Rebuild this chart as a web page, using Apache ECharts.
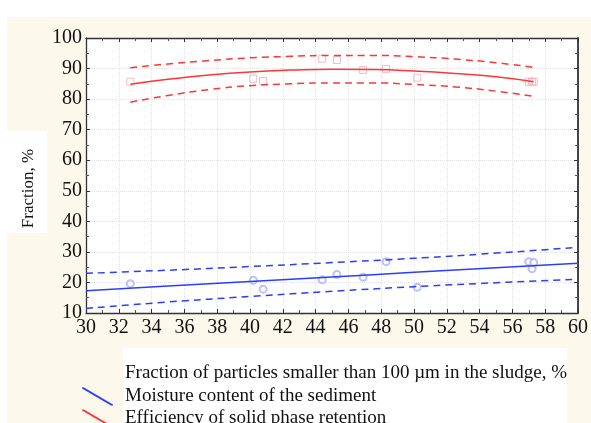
<!DOCTYPE html>
<html>
<head>
<meta charset="utf-8">
<script src="https://cdn.jsdelivr.net/npm/echarts@6/dist/echarts.min.js"></script>
<style>
  html, body { margin: 0; padding: 0; background: #fff; }
  #main { width: 591px; height: 423px; }
</style>
</head>
<body>
<div id="main"></div>
<script>
// sample points (x = fraction of particles < 100 um)
var sampleX = [32.7, 40.2, 40.8, 44.4, 45.3, 46.9, 48.3, 50.2, 57.0, 57.2, 57.3];
var moisture = [19.6, 20.7, 17.8, 20.9, 22.6, 21.7, 26.8, 18.4, 26.8, 24.5, 26.5];
var efficiency = [85.7, 86.7, 85.9, 93.2, 92.8, 89.5, 89.9, 87.0, 85.7, 85.7, 85.7];

// linear fit of moisture + confidence band
var blueX = [30, 35, 40, 45, 50, 55, 60];
var blueFit = [17.3, 18.8, 20.3, 21.8, 23.3, 24.8, 26.3];
var blueUpper = [23.0, 24.0, 25.2, 26.5, 27.9, 29.6, 31.5];
var blueLower = [11.5, 13.6, 15.4, 17.1, 18.6, 19.9, 21.0];

// quadratic fit of efficiency + confidence band
var redX = [32.7, 35, 37.5, 40, 42.5, 45, 47.5, 50, 52.5, 55, 57.3];
var redFit = [84.9, 86.5, 87.9, 88.9, 89.5, 89.8, 89.7, 89.2, 88.4, 87.3, 85.7];
var redUpper = [90.3, 91.5, 92.6, 93.5, 94.0, 94.3, 94.3, 93.9, 93.1, 91.9, 90.4];
var redLower = [79.0, 81.2, 83.1, 84.4, 85.0, 85.3, 85.3, 84.8, 84.0, 82.6, 80.9];

var xTitle = 'Fraction of particles smaller than 100 \u00b5m in the sludge, %';
var yTitle = 'Fraction, %';
var blueName = 'Moisture content of the sediment';
var redName = 'Efficiency of solid phase retention';

function pairs(xs, ys) {
    var out = [];
    for (var i = 0; i < xs.length; i++) {
        out.push([xs[i], ys[i]]);
    }
    return out;
}

var serif = 'Liberation Serif';
var BLUE = '#2b3dff';
var RED = '#ff3535';

var myChart = echarts.init(document.getElementById('main'));

var xBase = {
    type: 'value', min: 30, max: 60, interval: 2,
    axisLine: { show: true, lineStyle: { color: '#333', width: 1.3 } },
    axisTick: { show: true, inside: true, length: 4, lineStyle: { color: '#333' } },
    minorTick: { show: true, splitNumber: 2, length: 3, lineStyle: { color: '#555' } },
    splitLine: { show: false }
};
var yBase = {
    type: 'value', min: 10, max: 100, interval: 10,
    axisLine: { show: true, lineStyle: { color: '#333', width: 1.3 } },
    axisTick: { show: true, inside: true, length: 4, lineStyle: { color: '#333' } },
    minorTick: { show: true, splitNumber: 2, length: 3, lineStyle: { color: '#555' } },
    splitLine: { show: false }
};

function legendAt(name, top) {
    return {
        data: [name],
        left: 82, top: top, padding: 0,
        itemWidth: 31, itemHeight: 18,
        icon: 'path://M0,0L2,0L31,17L31,18L29,18L0,1Z',
        textStyle: { fontFamily: serif, fontSize: 19, color: '#111', padding: [0, 0, 0, 7] }
    };
}

option = {
    backgroundColor: '#fdf8ec',
    animation: false,
    grid: {
        left: 86, right: 11, top: 38, bottom: 110,
        show: true, backgroundColor: '#ffffff', borderWidth: 0
    },
    xAxis: [
        Object.assign({}, xBase, {
            position: 'bottom',
            axisLabel: { fontFamily: serif, fontSize: 20, color: '#111', margin: 5 },
            splitLine: { show: true, lineStyle: { color: '#e2e2e2', type: 'dotted' } }
        }),
        Object.assign({}, xBase, { position: 'top', axisLabel: { show: false } })
    ],
    yAxis: [
        Object.assign({}, yBase, {
            position: 'left',
            name: yTitle,
            nameLocation: 'middle',
            nameGap: 49,
            nameRotate: 90,
            nameTextStyle: { fontFamily: serif, fontSize: 17, color: '#111', padding: [0, 26, 0, 0] },
            axisLabel: { fontFamily: serif, fontSize: 20, color: '#111', margin: 4 },
            splitLine: { show: true, lineStyle: { color: '#e2e2e2', type: 'dotted' } }
        }),
        Object.assign({}, yBase, {
            position: 'right', axisLabel: { show: false },
            axisLine: { show: true, lineStyle: { color: '#444', width: 2 } }
        })
    ],
    legend: [legendAt(blueName, 387), legendAt(redName, 409)],
    graphic: [
        { type: 'rect', z: -1, silent: true, shape: { x: 0, y: 0, width: 591, height: 17 }, style: { fill: '#fff' } },
        { type: 'rect', z: -1, silent: true, shape: { x: 0, y: 0, width: 7, height: 423 }, style: { fill: '#fff' } },
        { type: 'rect', z: -1, silent: true, shape: { x: 7, y: 131, width: 40, height: 102 }, style: { fill: '#fff' } },
        { type: 'rect', z: -1, silent: true, shape: { x: 123, y: 348, width: 444, height: 75 }, style: { fill: '#fff' } },
        {
            type: 'text', z: 10, left: 125, top: 364,
            style: { text: xTitle, font: '19px "Liberation Serif"', fill: '#111' }
        }
    ],
    series: [
        {
            name: 'moisture points', type: 'scatter', data: pairs(sampleX, moisture),
            symbol: 'emptyCircle', symbolSize: 7,
            itemStyle: { color: '#aab3f5', borderColor: '#aab3f5', borderWidth: 1 }
        },
        {
            name: 'efficiency points', type: 'scatter', data: pairs(sampleX, efficiency),
            symbol: 'rect', symbolSize: 7,
            itemStyle: { color: 'rgba(0,0,0,0)', borderColor: '#f7a9b6', borderWidth: 1 }
        },
        {
            name: blueName, type: 'line', data: pairs(blueX, blueFit), smooth: true,
            showSymbol: false, color: BLUE, lineStyle: { color: BLUE, width: 1.5 }
        },
        {
            name: 'blue upper', type: 'line', data: pairs(blueX, blueUpper), smooth: true,
            showSymbol: false, lineStyle: { color: BLUE, width: 1.5, type: [7, 5] }
        },
        {
            name: 'blue lower', type: 'line', data: pairs(blueX, blueLower), smooth: true,
            showSymbol: false, lineStyle: { color: BLUE, width: 1.5, type: [7, 5] }
        },
        {
            name: redName, type: 'line', data: pairs(redX, redFit), smooth: true,
            showSymbol: false, color: RED, lineStyle: { color: RED, width: 1.5 }
        },
        {
            name: 'red upper', type: 'line', data: pairs(redX, redUpper), smooth: true,
            showSymbol: false, lineStyle: { color: RED, width: 1.5, type: [7, 5] }
        },
        {
            name: 'red lower', type: 'line', data: pairs(redX, redLower), smooth: true,
            showSymbol: false, lineStyle: { color: RED, width: 1.5, type: [7, 5] }
        }
    ]
};
myChart.setOption(option);
</script>
</body>
</html>
